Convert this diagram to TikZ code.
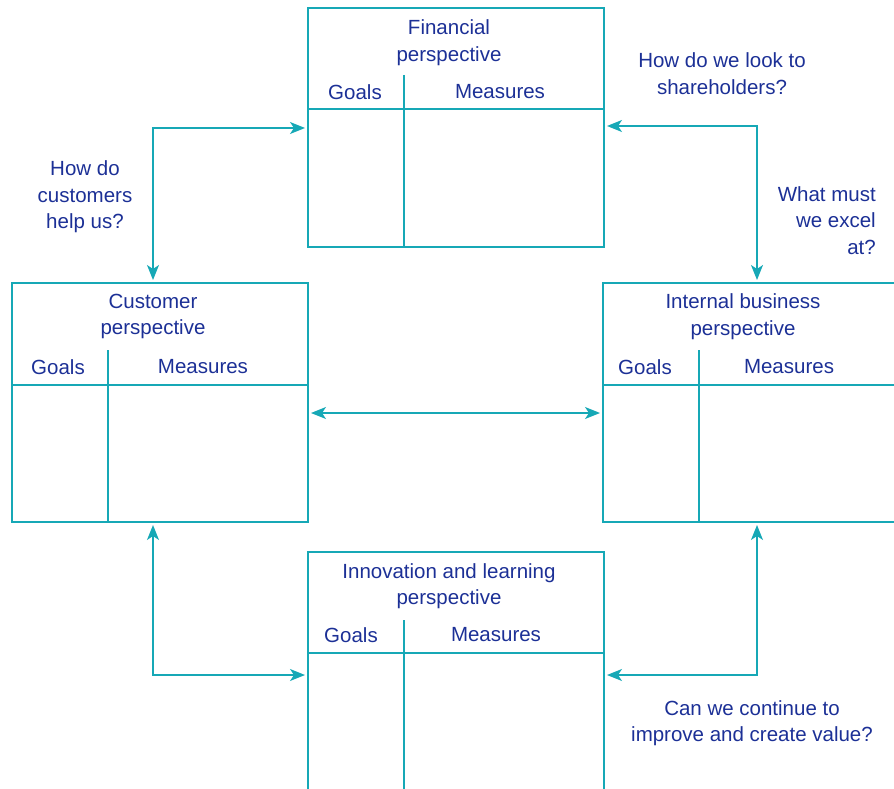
\documentclass[tikz,border=0pt]{standalone}
\usepackage{fontspec}
\setmainfont{Liberation Sans}
\usetikzlibrary{arrows.meta}
\definecolor{txtblue}{RGB}{28,48,150}
\definecolor{lineteal}{RGB}{22,168,182}
\begin{document}
\begin{tikzpicture}[x=1pt,y=-1pt,
  boxline/.style={draw=lineteal,line width=1.6pt},
  conn/.style={draw=lineteal,line width=1.5pt,{Stealth[length=15pt,width=12pt,inset=4pt]}-{Stealth[length=15pt,width=12pt,inset=4pt]}},
  lbl/.style={text=txtblue,font=\fontsize{20.5}{26.5}\selectfont,align=center,inner sep=0pt}]
\useasboundingbox (0,0) rectangle (894,789);
% Financial box
\draw[boxline] (308,8) rectangle (604,247);
\draw[boxline] (308,109) -- (604,109);
\draw[boxline] (404,75) -- (404,247);
\node[lbl] (fint) at (449,42.5) {Financial\\perspective};
\node[lbl] (fg) at (355,92) {Goals};
\node[lbl] (fm) at (500,92) {Measures};
% Customer box
\draw[boxline] (12,283) rectangle (308,522);
\draw[boxline] (12,385) -- (308,385);
\draw[boxline] (108,350) -- (108,522);
\node[lbl] (cust) at (153,316.5) {Customer\\perspective};
\node[lbl] (cg) at (58,367) {Goals};
\node[lbl] (cm) at (203,367) {Measures};
% Internal box
\draw[boxline] (898,283) -- (603,283) -- (603,522) -- (898,522);
\draw[boxline] (603,385) -- (898,385);
\draw[boxline] (699,350) -- (699,522);
\node[lbl] (intl) at (743,316.5) {Internal business\\perspective};
\node[lbl] (ig) at (645,367) {Goals};
\node[lbl] (im) at (789,367) {Measures};
% Innovation box
\draw[boxline] (308,792) -- (308,552) -- (604,552) -- (604,792);
\draw[boxline] (308,653) -- (604,653);
\draw[boxline] (404,620) -- (404,792);
\node[lbl] (innov) at (449,586) {Innovation and learning\\perspective};
\node[lbl] (ng) at (351,635) {Goals};
\node[lbl] (nm) at (496,635) {Measures};
% connector endpoints
\coordinate (a1) at (305,128);
\coordinate (a2) at (153,280);
\coordinate (b1) at (607,126);
\coordinate (b2) at (757,280);
\coordinate (c1) at (311,413);
\coordinate (c2) at (600,413);
\coordinate (d1) at (153,525);
\coordinate (d2) at (305,675);
\coordinate (e1) at (757,525);
\coordinate (e2) at (607,675);
\draw[conn] (a1) -| (a2);
\draw[conn] (b1) -| (b2);
\draw[conn] (c1) -- (c2);
\draw[conn] (d1) |- (d2);
\draw[conn] (e1) |- (e2);
% questions
\node[lbl] (q1) at (85,197) {How do\\customers\\help us?};
\node[lbl] (q2) at (722,73.5) {How do we look to\\shareholders?};
\node[lbl,align=right,anchor=east] (q3) at (876,220.5) {What must\\we excel\\at?};
\node[lbl] (q4) at (752,723) {Can we continue to\\improve and create value?};
\end{tikzpicture}
\end{document}
